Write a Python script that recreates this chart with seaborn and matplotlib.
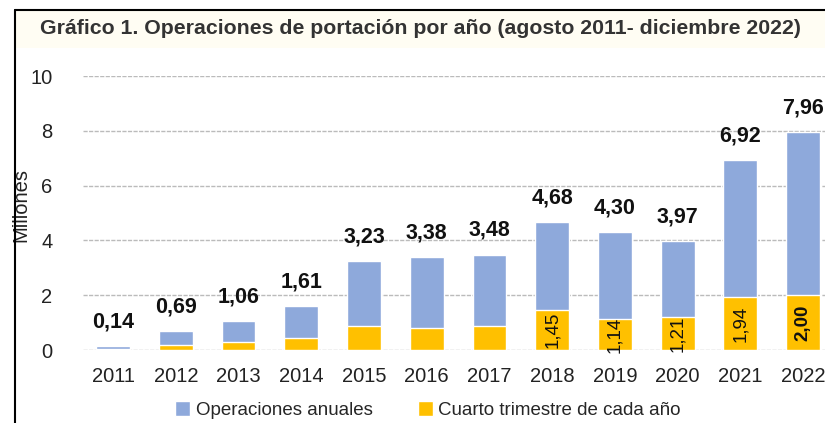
import matplotlib
matplotlib.use("Agg")
import matplotlib.pyplot as plt
import seaborn as sns
import pandas as pd
from matplotlib import font_manager
from matplotlib.patches import Rectangle

years = ["2011", "2012", "2013", "2014", "2015", "2016", "2017", "2018", "2019", "2020", "2021", "2022"]
annual = [0.14, 0.69, 1.06, 1.61, 3.23, 3.38, 3.48, 4.68, 4.30, 3.97, 6.92, 7.96]
q4 = [0.04, 0.20, 0.29, 0.44, 0.87, 0.79, 0.87, 1.45, 1.14, 1.21, 1.94, 2.00]
annual_labels = ["0,14", "0,69", "1,06", "1,61", "3,23", "3,38", "3,48", "4,68", "4,30", "3,97", "6,92", "7,96"]
q4_labels = {"2018": "1,45", "2019": "1,14", "2020": "1,21", "2021": "1,94", "2022": "2,00"}

sns.set_theme(style="white")
names = {f.name for f in font_manager.fontManager.ttflist}
fam = "Liberation Sans Narrow" if "Liberation Sans Narrow" in names else "Liberation Sans"
plt.rcParams["font.family"] = [fam, "DejaVu Sans"]

blue = "#8EA9DB"
gold = "#FFC000"

df = pd.DataFrame({"year": years, "annual": annual, "q4": q4})

fig = plt.figure(figsize=(8.25, 4.23), dpi=100)
# title band and frame
fig.patches.append(Rectangle((15/825, 1 - 48/423), 1, 38/423, transform=fig.transFigure,
                             facecolor="#FFFDF3", edgecolor="none", zorder=0))
fig.lines.append(plt.Line2D([15/825, 1], [1 - 10/423, 1 - 10/423], transform=fig.transFigure, color="black", lw=1.5))
fig.lines.append(plt.Line2D([15/825, 15/825], [0, 1 - 10/423], transform=fig.transFigure, color="black", lw=1.5))
fig.text(40/825, 1 - 29/423, "Gráfico 1. Operaciones de portación por año (agosto 2011- diciembre 2022)",
         fontsize=15.3, fontweight="bold", color="#333333", va="center", ha="left")

ax = fig.add_axes([83/825, 1 - 350/423, 742/825, 274/423])
ax.set_facecolor("none")
sns.barplot(data=df, x="year", y="annual", color=blue, width=0.54, ax=ax, zorder=2,
            saturation=1, label="Operaciones anuales")
sns.barplot(data=df, x="year", y="q4", color=gold, width=0.54, ax=ax, zorder=3,
            saturation=1, label="Cuarto trimestre de cada año")

ax.set_ylim(0, 10)
ax.set_xlim(-0.48, 11.35)
ax.set_yticks([0, 2, 4, 6, 8, 10])
ax.yaxis.grid(True, color="#BBBBBB", linestyle=(0, (3, 1)), lw=1.0, zorder=0)
ax.set_axisbelow(True)
for s in ax.spines.values():
    s.set_visible(False)
ax.tick_params(axis="both", length=0, labelsize=14.5, colors="#222222")
ax.tick_params(axis="x", pad=12)
ax.tick_params(axis="y", pad=22)
ax.set_xlabel("")
ax.set_ylabel("Millones", fontsize=14.5, color="#222222")
ax.yaxis.set_label_coords(-53/742, 0.53)

for i, (v, lab) in enumerate(zip(annual, annual_labels)):
    ax.text(i, v + 0.5, lab, ha="center", va="bottom", fontsize=15.5, fontweight="bold", color="#111111")
for i, y in enumerate(years):
    if y in q4_labels:
        ax.text(i, q4[i] / 2, q4_labels[y], ha="center", va="center", rotation=90, fontsize=13.5,
                fontweight="bold" if y == "2022" else "normal", color="#111111")

ax.legend(loc="center", bbox_to_anchor=(0.465, -0.219), ncol=2, frameon=False, fontsize=13.5,
          handlelength=0.8, handleheight=0.8, handletextpad=0.3, columnspacing=2.4,
          borderpad=0.1)
fig.savefig("out.png", dpi=100)
